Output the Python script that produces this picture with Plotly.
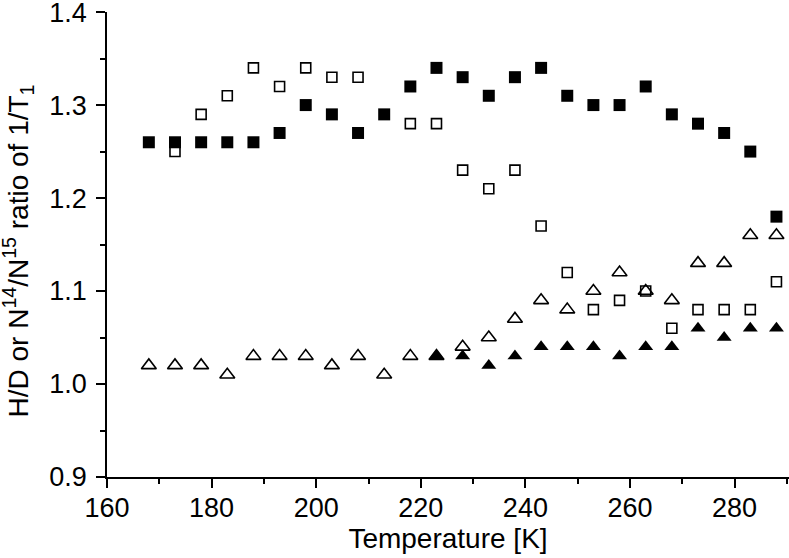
import plotly.graph_objects as go

temps = [168, 173, 178, 183, 188, 193, 198, 203, 208, 213, 218, 223, 228,
         233, 238, 243, 248, 253, 258, 263, 268, 273, 278, 283, 288]

# filled squares
hd_filled = [1.26, 1.26, 1.26, 1.26, 1.26, 1.27, 1.30, 1.29, 1.27, 1.29, 1.32, 1.34, 1.33,
             1.31, 1.33, 1.34, 1.31, 1.30, 1.30, 1.32, 1.29, 1.28, 1.27, 1.25, 1.18]

# open squares (no point at 168 and 213)
open_sq_t = [173, 178, 183, 188, 193, 198, 203, 208, 218, 223, 228, 233,
             238, 243, 248, 253, 258, 263, 268, 273, 278, 283, 288]
open_sq = [1.25, 1.29, 1.31, 1.34, 1.32, 1.34, 1.33, 1.33, 1.28, 1.28, 1.23, 1.21,
           1.23, 1.17, 1.12, 1.08, 1.09, 1.10, 1.06, 1.08, 1.08, 1.08, 1.11]

# open triangles
open_tri = [1.02, 1.02, 1.02, 1.01, 1.03, 1.03, 1.03, 1.02, 1.03, 1.01, 1.03, 1.03, 1.04,
            1.05, 1.07, 1.09, 1.08, 1.10, 1.12, 1.10, 1.09, 1.13, 1.13, 1.16, 1.16]

# filled triangles (from 223 K)
filled_tri_t = [223, 228, 233, 238, 243, 248, 253, 258, 263, 268, 273, 278, 283, 288]
filled_tri = [1.03, 1.03, 1.02, 1.03, 1.04, 1.04, 1.04, 1.03, 1.04, 1.04, 1.06, 1.05, 1.06, 1.06]

FONT = "Liberation Sans, Arial"

fig = go.Figure()
fig.add_trace(go.Scatter(x=temps, y=hd_filled, mode="markers", cliponaxis=False,
                         marker=dict(symbol="square", size=12, color="black")))
fig.add_trace(go.Scatter(x=open_sq_t, y=open_sq, mode="markers", cliponaxis=False,
                         marker=dict(symbol="square-open", size=10, color="black",
                                     line=dict(width=1.6, color="black"))))
fig.add_trace(go.Scatter(x=temps, y=open_tri, mode="markers", cliponaxis=False,
                         marker=dict(symbol="triangle-up-open", size=13, color="black",
                                     line=dict(width=1.6, color="black"))))
fig.add_trace(go.Scatter(x=filled_tri_t, y=filled_tri, mode="markers", cliponaxis=False,
                         marker=dict(symbol="triangle-up", size=13, color="black")))

axis_common = dict(
    showline=True, linecolor="black", linewidth=1.5, mirror=False,
    ticks="outside", ticklen=9, tickwidth=1.5, tickcolor="black",
    showgrid=False, zeroline=False, automargin=False, ticklabeloverflow="allow",
    tickfont=dict(family=FONT, size=27, color="black"),
)

fig.update_xaxes(
    range=[160, 290.4], tick0=160, dtick=20, ticklabelstandoff=-3,
    minor=dict(ticks="outside", ticklen=5, tickwidth=1.5, tickcolor="black", dtick=10),
    title=dict(text="Temperature [K]", standoff=2,
               font=dict(family=FONT, size=28, color="black")),
    **axis_common,
)
fig.update_yaxes(
    range=[0.9, 1.4001], tick0=0.9, dtick=0.1, tickformat=".1f", ticklabelstandoff=4,
    minor=dict(ticks="outside", ticklen=5, tickwidth=1.5, tickcolor="black", dtick=0.05),
    **axis_common,
)

fig.add_annotation(
    text="H/D or N<sup>14</sup>/N<sup>15</sup> ratio of 1/T<sub>1</sub>",
    xref="paper", yref="paper", x=0, y=0.5, xanchor="center", yanchor="middle",
    xshift=-89, yshift=-7, textangle=-90, showarrow=False,
    font=dict(family=FONT, size=28, color="black"),
)

fig.update_layout(
    width=789, height=558,
    margin=dict(l=107, r=0, t=12, b=81),
    plot_bgcolor="white", paper_bgcolor="white",
    showlegend=False,
)

# drop the browser's default 8 px body margin so the figure fills the window
fig.write_html("out.html", config={"displayModeBar": False},
               post_script="document.body.style.margin = '0';")
